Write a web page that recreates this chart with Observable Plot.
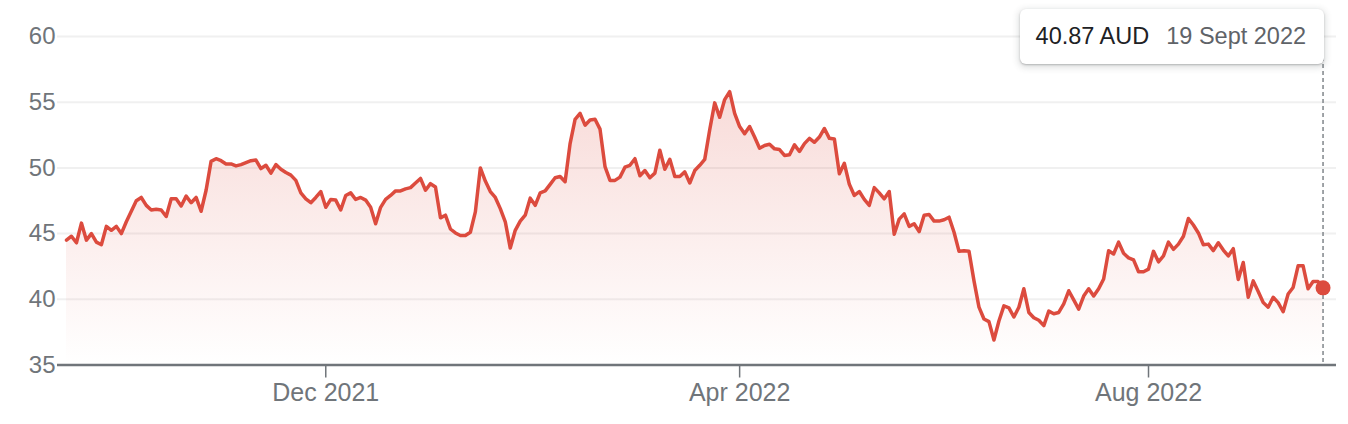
<!DOCTYPE html>
<html>
<head>
<meta charset="utf-8">
<script src="https://cdn.jsdelivr.net/npm/d3@7"></script>
<script src="https://cdn.jsdelivr.net/npm/@observablehq/plot@0.6"></script>
<style>
  html, body { margin: 0; padding: 0; background: #fff; }
  #wrap { position: relative; width: 1348px; height: 424px; font-family: "Liberation Sans", Arial, sans-serif; }
  #tip {
    position: absolute; top: 9px; height: 55px; box-sizing: border-box;
    display: flex; align-items: center; gap: 17px;
    padding: 0 18px 0 16px; background: #fff; border-radius: 6px;
    box-shadow: 0 1px 2px rgba(60,64,67,0.3), 0 2px 6px 2px rgba(60,64,67,0.15);
    font-size: 23.5px; white-space: nowrap;
  }
  #tip .v { color: #202124; }
  #tip .d { color: #5f6368; }
</style>
</head>
<body>
<div id="wrap"></div>
<script>
// ---- data ----
const startDate = "2021-09-20";
const endDate = "2022-09-19";
const holidays = ["2021-12-27","2021-12-28","2022-01-03","2022-01-26","2022-04-15","2022-04-18","2022-04-25","2022-06-13"];
const prices = [
  44.5, 44.8, 44.3, 45.8, 44.5, 45.0, 44.35, 44.15, 45.55, 45.25,
  45.55, 45.0, 45.9, 46.7, 47.5, 47.75, 47.15, 46.8, 46.85, 46.8,
  46.3, 47.65, 47.65, 47.1, 47.85, 47.35, 47.75, 46.7, 48.3, 50.5,
  50.7, 50.55, 50.3, 50.3, 50.15, 50.25, 50.4, 50.55, 50.6, 49.95,
  50.2, 49.6, 50.25, 49.9, 49.65, 49.45, 49.05, 48.1, 47.65, 47.35,
  47.75, 48.2, 47.0, 47.6, 47.55, 46.8, 47.9, 48.1, 47.6, 47.75,
  47.55, 47.0, 45.75, 47.0, 47.6, 47.9, 48.25, 48.25, 48.4, 48.5,
  48.85, 49.2, 48.3, 48.8, 48.55, 46.2, 46.4, 45.35, 45.05, 44.85,
  44.85, 45.1, 46.65, 50.0, 49.0, 48.2, 47.75, 46.9, 45.9, 43.9,
  45.25, 45.95, 46.4, 47.7, 47.15, 48.1, 48.25, 48.75, 49.25, 49.35,
  48.95, 51.85, 53.7, 54.15, 53.25, 53.65, 53.7, 52.95, 50.1, 49.05,
  49.05, 49.3, 50.05, 50.2, 50.7, 49.4, 49.8, 49.25, 49.6, 51.35,
  49.9, 50.65, 49.35, 49.35, 49.7, 48.85, 49.8, 50.2, 50.65, 52.9,
  54.95, 53.85, 55.2, 55.8, 54.15, 53.15, 52.6, 53.15, 52.35, 51.5,
  51.7, 51.8, 51.45, 51.4, 50.95, 51.0, 51.75, 51.25, 51.85, 52.25,
  51.95, 52.35, 53.0, 52.25, 52.2, 49.55, 50.35, 48.75, 47.9, 48.2,
  47.6, 47.15, 48.5, 48.1, 47.65, 48.2, 44.95, 46.1, 46.5, 45.55,
  45.75, 45.15, 46.4, 46.45, 45.95, 45.95, 46.05, 46.25, 45.1, 43.65,
  43.7, 43.65, 41.4, 39.4, 38.5, 38.3, 36.9, 38.35, 39.5, 39.35,
  38.65, 39.4, 40.8, 39.0, 38.6, 38.4, 38.0, 39.1, 38.9, 39.0,
  39.65, 40.65, 39.95, 39.25, 40.25, 40.8, 40.25, 40.8, 41.55, 43.7,
  43.45, 44.35, 43.5, 43.15, 43.0, 42.1, 42.1, 42.3, 43.65, 42.85,
  43.3, 44.35, 43.8, 44.2, 44.8, 46.15, 45.65, 45.05, 44.15, 44.2,
  43.7, 44.3, 43.75, 43.3, 43.85, 41.5, 42.8, 40.15, 41.4, 40.6,
  39.75, 39.4, 40.15, 39.75, 39.05, 40.4, 40.9, 42.55, 42.55, 40.8,
  41.35, 41.35, 40.87
];
const tickMonths = ["2021-12", "2022-04", "2022-08"];
const yTicks = [35, 40, 45, 50, 55, 60];
const currency = "AUD";
const tooltipMonths = ["Jan","Feb","Mar","Apr","May","Jun","Jul","Aug","Sept","Oct","Nov","Dec"];

// ---- trading calendar (weekdays minus exchange holidays) ----
const iso = d => d.toISOString().slice(0, 10);
const dates = [];
for (let d = new Date(startDate + "T00:00:00Z"), end = new Date(endDate + "T00:00:00Z"); d <= end; d.setUTCDate(d.getUTCDate() + 1)) {
  const dow = d.getUTCDay();
  if (dow !== 0 && dow !== 6 && !holidays.includes(iso(d))) dates.push(new Date(d));
}
const n = Math.min(dates.length, prices.length);
const data = prices.slice(0, n).map((p, i) => ({i, date: dates[i], price: p}));
const last = data[n - 1];
const tickIdx = tickMonths.map(m => dates.findIndex(d => iso(d).slice(0, 7) === m));
const fmtTick = d3.utcFormat("%b %Y");

const red = "#dc4b3e";
const grey = "#70757a";

const chart = Plot.plot({
  width: 1348,
  height: 424,
  marginLeft: 57,
  marginRight: 12,
  marginTop: 36,
  marginBottom: 59.5,
  style: {fontFamily: '"Liberation Sans", Arial, sans-serif', fontSize: "24px", color: grey, background: "white", overflow: "visible"},
  x: {domain: [-1.8, n - 1 + 2.7]},
  y: {domain: [yTicks[0], yTicks[yTicks.length - 1]]},
  marks: [
    Plot.ruleY(yTicks.slice(1), {stroke: "#f0f0f0", strokeWidth: 2}),
    Plot.areaY(data, {x: "i", y1: yTicks[0], y2: "price", fill: "url(#areaGrad)"}),
    Plot.ruleY([yTicks[0]], {stroke: grey, strokeWidth: 2.5}),
    Plot.axisY(yTicks, {tickSize: 0, tickPadding: 2, label: null, fill: grey}),
    Plot.axisX(tickIdx, {tickSize: 13, tickPadding: 5, label: null, strokeWidth: 1.5, stroke: grey, fill: grey, fontSize: 25, tickFormat: i => fmtTick(dates[i])}),
    Plot.ruleX([last], {x: "i", stroke: "#80868b", strokeWidth: 1.5, strokeDasharray: "4,3"}),
    Plot.line(data, {x: "i", y: "price", stroke: red, strokeWidth: 3.5, strokeLinejoin: "round"}),
    Plot.dot([last], {x: "i", y: "price", r: 7.5, fill: red})
  ]
});

// gradient definition for the area
const defs = d3.select(chart).insert("defs", ":first-child");
const g = defs.append("linearGradient").attr("id", "areaGrad").attr("x1", 0).attr("y1", 0).attr("x2", 0).attr("y2", 1);
g.append("stop").attr("offset", "0%").attr("stop-color", red).attr("stop-opacity", 0.2);
g.append("stop").attr("offset", "100%").attr("stop-color", red).attr("stop-opacity", 0.0);

const wrap = document.getElementById("wrap");
wrap.appendChild(chart);

// tooltip anchored to the last point
const xLast = chart.scale("x").apply(last.i);
const tip = document.createElement("div");
tip.id = "tip";
tip.style.right = (1348 - (xLast + 1.5)) + "px";
const d = last.date;
tip.innerHTML = `<span class="v">${last.price.toFixed(2)} ${currency}</span><span class="d">${d.getUTCDate()} ${tooltipMonths[d.getUTCMonth()]} ${d.getUTCFullYear()}</span>`;
wrap.appendChild(tip);
</script>
</body>
</html>
